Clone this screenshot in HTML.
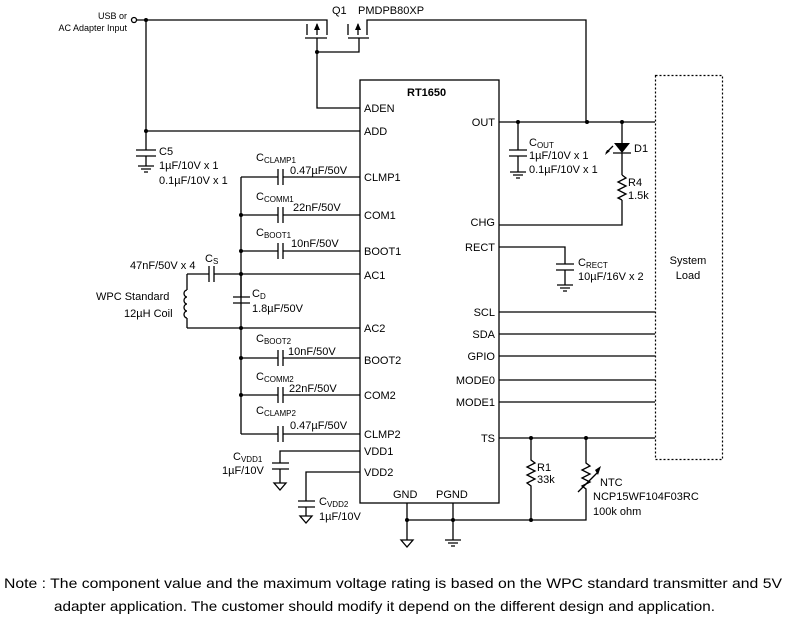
<!DOCTYPE html>
<html><head><meta charset="utf-8"><style>
html,body{margin:0;padding:0;background:#fff;}
svg{display:block;}
text{font-family:"Liberation Sans",Arial,sans-serif;fill:#000;}
</style></head><body>
<svg width="791" height="628" viewBox="0 0 791 628" xmlns="http://www.w3.org/2000/svg">
<g stroke="#000" stroke-width="1.3" fill="none">
<!-- input -->
<circle cx="134" cy="20" r="2.5" fill="#fff"/>
<path d="M137 20H327V35M146 20V131H360"/>
<!-- MOSFETs -->
<path d="M307 24V35M317 24V35M305 38H327M317 38V52H359V38M348 38H369M348 24V35M358 24V35M367 35V20H586V122"/>
<path d="M317 52V108H360"/>
<!-- chip -->
<rect x="360" y="80" width="139" height="423"/>
<!-- C5 -->
<path d="M146 131V150M136 150H156M136 156H156M146 156V166M138 166H154M141 169H151M144 172H148"/>
<!-- left bus -->
<path d="M241 177V434"/>
<path d="M241 177H278M283 177H360M278 169V185M283 169V185"/>
<path d="M241 215H278M283 215H360M278 207V223M283 207V223"/>
<path d="M241 251H278M283 251H360M278 243V259M283 243V259"/>
<path d="M187 274H209M214 274H360M209 266V282M214 266V282"/>
<path d="M187 328H360M241 274V297M233 297H250M233 303H250"/>
<path d="M187 274V290M187 318V328"/>
<path d="M187 290a3 3.5 0 0 0 0 7a3 3.5 0 0 0 0 7a3 3.5 0 0 0 0 7a3 3.5 0 0 0 0 7"/>
<path d="M241 358H278M283 358H360M278 350V366M283 350V366"/>
<path d="M241 395H278M283 395H360M278 387V403M283 387V403"/>
<path d="M241 434H278M283 434H360M278 426V442M283 426V442"/>
<!-- VDD -->
<path d="M360 451H280V463M272 463H289M272 469H289M280 469V483M274 483H286L280 490Z"/>
<path d="M360 472H306V501M298 501H315M298 507H315M306 507V516M300 516H312L306 523Z"/>
<!-- OUT -->
<path d="M499 122H655"/>
<path d="M518 122V150M509 150H527M509 156H527M518 156V172M510 172H526M513 175H523M516 178H520"/>
<path d="M622 122V143M622 153V175M622 175l4 3l-8 4l8 4l-8 4l8 4l-8 4l4 2M622 200V225H499"/>
<path d="M613 153H631"/>
<path d="M499 247H565V264M556 264H574M556 270H574M565 270V285M557 285H573M560 288H570M563 291H567"/>
<!-- signal lines -->
<path d="M499 312H655M499 334H655M499 356H655M499 380H655M499 402H655M499 438H655"/>
<!-- dashed box -->
<rect x="655.5" y="75.5" width="67" height="384" stroke-dasharray="2,2" stroke-width="1.2"/>
<!-- R1 NTC -->
<path d="M531 438V460l4 3l-8 4l8 4l-8 4l8 4l-8 4l4 3V520"/>
<path d="M586 438V463l4 3l-8 4l8 4l-8 4l8 4l-8 4l4 3V520H407"/>
<path d="M578 492L598 472"/>
<!-- gnd -->
<path d="M407 503V540M401 540H413L407 547Z"/>
<path d="M453 503V540M445 540H461M448 543H458M451 546H455"/>
<!-- led arrow -->
<path d="M613 146L606 153"/>
</g>
<g fill="#000">
<path d="M614 143H630L622 153Z"/>
<path d="M595 470L601 466L598 475Z"/>
<path d="M605 155L610 151L607 150Z"/>
<path d="M317 23L314 30H320Z"/><path d="M358 23L355 30H361Z"/>
<circle cx="146" cy="20" r="2"/><circle cx="146" cy="131" r="2"/><circle cx="317" cy="52" r="2"/>
<circle cx="241" cy="215" r="2"/><circle cx="241" cy="251" r="2"/><circle cx="241" cy="274" r="2"/>
<circle cx="241" cy="328" r="2"/><circle cx="241" cy="358" r="2"/><circle cx="241" cy="395" r="2"/>
<circle cx="518" cy="122" r="2"/><circle cx="587" cy="122" r="2"/><circle cx="622" cy="122" r="2"/>
<circle cx="531" cy="438" r="2"/><circle cx="586" cy="438" r="2"/>
<circle cx="407" cy="520" r="2"/><circle cx="453" cy="520" r="2"/><circle cx="531" cy="520" r="2"/>
</g>
<g font-size="11">
<text x="127" y="19" text-anchor="end" font-size="9">USB or</text>
<text x="127" y="31" text-anchor="end" font-size="9">AC Adapter Input</text>
<text x="332" y="14">Q1</text><text x="358" y="14">PMDPB80XP</text>
<text x="407" y="96" font-weight="bold">RT1650</text>
<text x="364" y="112">ADEN</text><text x="364" y="135">ADD</text>
<text x="364" y="181">CLMP1</text><text x="364" y="219">COM1</text>
<text x="364" y="255">BOOT1</text><text x="364" y="279">AC1</text>
<text x="364" y="332">AC2</text><text x="364" y="364">BOOT2</text>
<text x="364" y="399">COM2</text><text x="364" y="438">CLMP2</text>
<text x="364" y="455">VDD1</text><text x="364" y="476">VDD2</text>
<text x="393" y="498">GND</text><text x="436" y="498">PGND</text>
<text x="495" y="126" text-anchor="end">OUT</text><text x="495" y="226" text-anchor="end">CHG</text>
<text x="495" y="251" text-anchor="end">RECT</text><text x="495" y="316" text-anchor="end">SCL</text>
<text x="495" y="338" text-anchor="end">SDA</text><text x="495" y="360" text-anchor="end">GPIO</text>
<text x="495" y="384" text-anchor="end">MODE0</text><text x="495" y="406" text-anchor="end">MODE1</text>
<text x="495" y="442" text-anchor="end">TS</text>
<text x="159" y="155">C5</text><text x="159" y="169">1µF/10V x 1</text><text x="159" y="184">0.1µF/10V x 1</text>
<text x="256" y="161">C<tspan font-size="8" dy="2">CLAMP1</tspan></text><text x="290" y="174">0.47µF/50V</text>
<text x="256" y="200">C<tspan font-size="8" dy="2">COMM1</tspan></text><text x="293" y="211">22nF/50V</text>
<text x="256" y="236">C<tspan font-size="8" dy="2">BOOT1</tspan></text><text x="291" y="247">10nF/50V</text>
<text x="130" y="269">47nF/50V x 4</text><text x="205" y="262">C<tspan font-size="8" dy="2">S</tspan></text>
<text x="96" y="300">WPC Standard</text><text x="124" y="317">12µH Coil</text>
<text x="252" y="297">C<tspan font-size="8" dy="2">D</tspan></text><text x="252" y="312">1.8µF/50V</text>
<text x="256" y="342">C<tspan font-size="8" dy="2">BOOT2</tspan></text><text x="288" y="355">10nF/50V</text>
<text x="256" y="380">C<tspan font-size="8" dy="2">COMM2</tspan></text><text x="289" y="392">22nF/50V</text>
<text x="256" y="414">C<tspan font-size="8" dy="2">CLAMP2</tspan></text><text x="290" y="429">0.47µF/50V</text>
<text x="233" y="460">C<tspan font-size="8" dy="2">VDD1</tspan></text><text x="222" y="474">1µF/10V</text>
<text x="319" y="505">C<tspan font-size="8" dy="2">VDD2</tspan></text><text x="319" y="520">1µF/10V</text>
<text x="529" y="146">C<tspan font-size="8" dy="2">OUT</tspan></text><text x="529" y="159">1µF/10V x 1</text><text x="529" y="173">0.1µF/10V x 1</text>
<text x="634" y="152">D1</text><text x="628" y="186">R4</text><text x="628" y="199">1.5k</text>
<text x="578" y="266">C<tspan font-size="8" dy="2">RECT</tspan></text><text x="578" y="280">10µF/16V x 2</text>
<text x="688" y="264" text-anchor="middle">System</text><text x="688" y="279" text-anchor="middle">Load</text>
<text x="537" y="471">R1</text><text x="537" y="483">33k</text>
<text x="600" y="486">NTC</text><text x="593" y="500">NCP15WF104F03RC</text><text x="593" y="515">100k ohm</text>
</g>
<g font-size="14">
<text x="4" y="588" textLength="778" lengthAdjust="spacingAndGlyphs">Note : The component value and the maximum voltage rating is based on the WPC standard transmitter and 5V</text>
<text x="54" y="611" textLength="661" lengthAdjust="spacingAndGlyphs">adapter application. The customer should modify it depend on the different design and application.</text>
</g>
</svg>
</body></html>
